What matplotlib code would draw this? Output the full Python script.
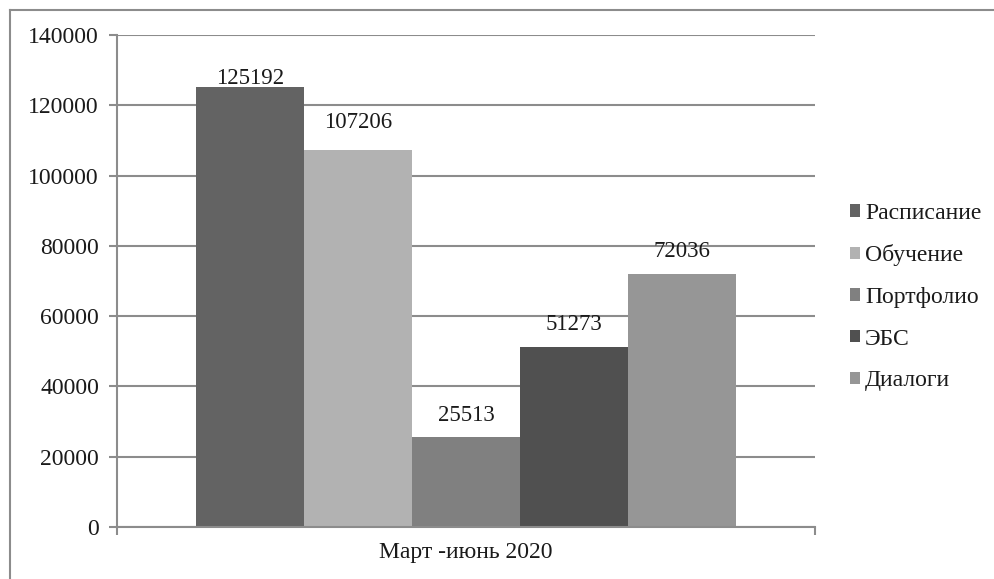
import matplotlib
matplotlib.use("Agg")
import matplotlib.pyplot as plt
from matplotlib.lines import Line2D

# Data
category = "Март -июнь 2020"
series_names = ["Расписание", "Обучение", "Портфолио", "ЭБС", "Диалоги"]
series_values = [125192, 107206, 25513, 51273, 72036]
y_ticks = [0, 20000, 40000, 60000, 80000, 100000, 120000, 140000]

# Styling
bar_colors = ["#636363", "#b2b2b2", "#808080", "#505050", "#969696"]
label_offsets_pt = [6, 20, 16, 16, 16]
grid_color = "#8c8c8c"
text_color = "#1a1a1a"
fs = 17

plt.rcParams["font.family"] = ["Liberation Serif", "DejaVu Serif"]
plt.rcParams["font.size"] = fs

fig = plt.figure(figsize=(9.94, 5.79), dpi=100)
fig.patch.set_facecolor("white")

# Chart frame (top and left edges)
fig.add_artist(Line2D([10 / 994, 1.0], [1 - 10 / 579, 1 - 10 / 579],
                      transform=fig.transFigure, color=grid_color, lw=1.5))
fig.add_artist(Line2D([10 / 994, 10 / 994], [0.0, 1 - 10 / 579],
                      transform=fig.transFigure, color=grid_color, lw=1.5))

ax = fig.add_axes([117 / 994, 1 - 527 / 579, (815 - 117) / 994, (527 - 35) / 579])

n = len(series_values)
group_width = 540 / 698  # fraction of the category slot occupied by bars
bw = group_width / n
x0 = 0.5 - group_width / 2
for i, (name, val, col) in enumerate(zip(series_names, series_values, bar_colors)):
    xc = x0 + bw * (i + 0.5)
    ax.bar(xc, val, width=bw, color=col, label=name, zorder=3)
    ax.annotate(f"{val}", (xc, val), xytext=(0, label_offsets_pt[i]),
                textcoords="offset points", ha="center", va="center",
                fontsize=fs - 0.5, color=text_color, zorder=4)

ax.set_xlim(0, 1)
ax.set_ylim(0, 140000)
ax.set_yticks(y_ticks)
ax.set_yticklabels([str(t) for t in y_ticks])
ax.yaxis.grid(True, color=grid_color, lw=1.5, zorder=0)
ax.tick_params(axis="y", length=6, width=1.5, color=grid_color, pad=7,
               labelcolor=text_color, labelsize=fs)

ax.set_xticks([0.5])
ax.set_xticklabels([category])
ax.set_xticks([0, 1], minor=True)
ax.tick_params(axis="x", which="major", length=0, pad=11,
               labelcolor=text_color, labelsize=fs)
ax.tick_params(axis="x", which="minor", length=6, width=1.5, color=grid_color)

for side in ["top", "right"]:
    ax.spines[side].set_visible(False)
ax.spines["left"].set_color(grid_color)
ax.spines["left"].set_linewidth(1.5)
ax.spines["bottom"].set_color(grid_color)
ax.spines["bottom"].set_linewidth(1.5)
ax.spines["bottom"].set_zorder(5)

leg = fig.legend(loc="center left", bbox_to_anchor=(841 / 994, 1 - 297 / 579),
                 frameon=False, handlelength=0.42, handleheight=0.42,
                 handletextpad=0.2, labelspacing=0.87, fontsize=fs,
                 borderaxespad=0)
for t in leg.get_texts():
    t.set_color(text_color)

fig.savefig("out.png", dpi=100, facecolor="white")
